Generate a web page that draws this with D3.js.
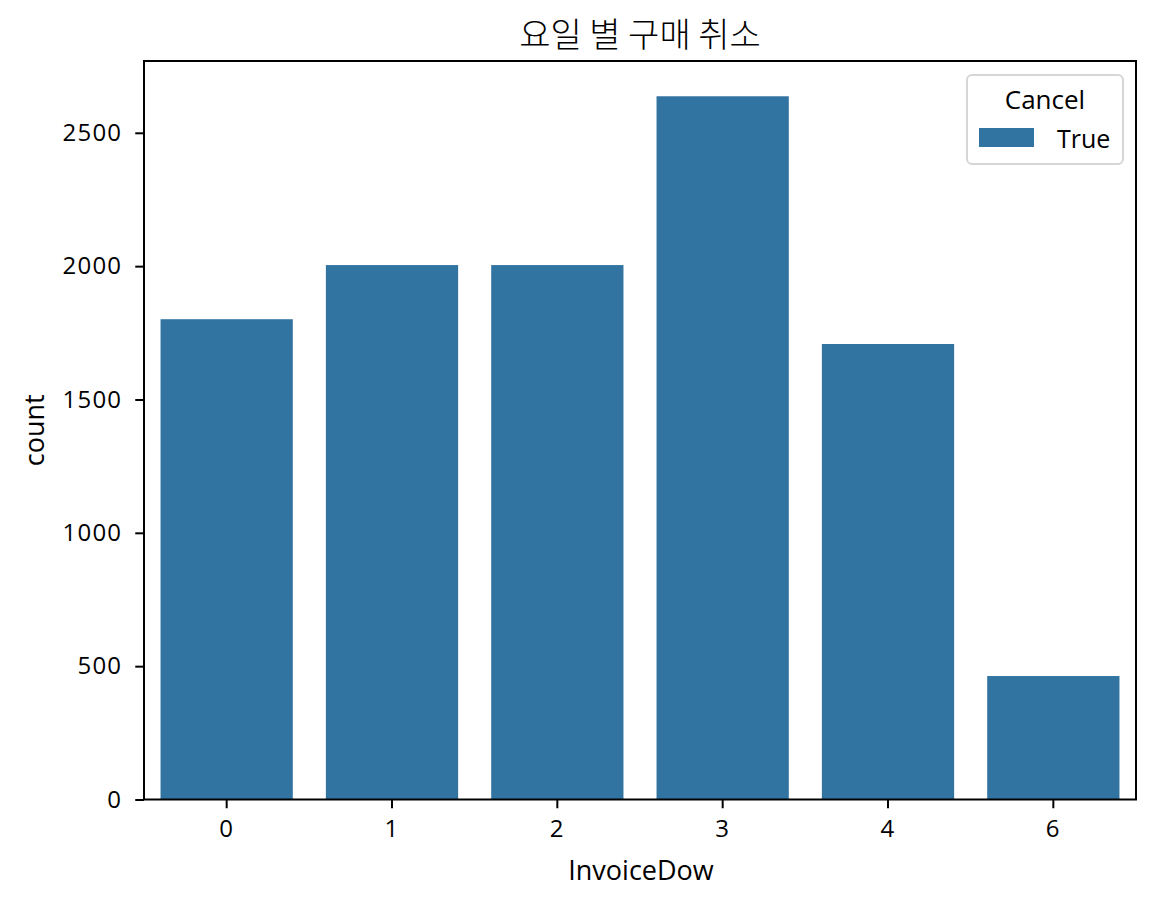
<!DOCTYPE html>
<html><head><meta charset="utf-8">
<script src="https://cdn.jsdelivr.net/npm/d3@7"></script>
<style>body{margin:0;background:#fff}svg{display:block}</style>
</head><body><svg id="c" width="1156" height="903"></svg>
<script>
const categories = ["0","1","2","3","4","6"];
const counts = [1801, 2004, 2004, 2637, 1708, 463];
const yTicks = [0, 500, 1000, 1500, 2000, 2500];
const legendTitle = "Cancel";
const legendLabels = ["True"];
const title = "요일 별 구매 취소";
const xLabel = "InvoiceDow";
const yLabel = "count";

const svg = d3.select("#c");
const m = {l:144, r:1136, t:61, b:799.5};
const font = "'Open Sans','Noto Sans',sans-serif";
const color = "#3274a1";

const x = d3.scaleBand().domain(categories).range([m.l, m.r]).paddingInner(0.2).paddingOuter(0.1);
const y = d3.scaleLinear().domain([0, 2500]).range([m.b, 132.8]);
const yMax = y.invert(m.t);
y.domain([0, yMax]).range([m.b, m.t]);

svg.append("g").selectAll("rect").data(counts).join("rect")
  .attr("x", (d,i)=>x(categories[i])).attr("width", x.bandwidth())
  .attr("y", d=>y(d)).attr("height", d=>m.b - y(d)).attr("fill", color);

const xa = svg.append("g").attr("transform", `translate(0,${m.b})`)
  .call(d3.axisBottom(x).tickSize(8.75).tickPadding(12));
const ya = svg.append("g").attr("transform", `translate(${m.l},0)`)
  .call(d3.axisLeft(y).tickValues(yTicks).tickFormat(d3.format("d")).tickSize(8.75).tickPadding(13));
[xa, ya].forEach(a=>{
  a.select(".domain").remove();
  a.selectAll("line").attr("stroke","#000").attr("stroke-width",2);
  a.selectAll("text").attr("font-family", font).attr("font-size", 24).attr("fill","#000")
    .attr("letter-spacing", "1.2px");
});

svg.append("rect").attr("x", m.l).attr("y", m.t).attr("width", m.r-m.l).attr("height", m.b-m.t)
  .attr("fill","none").attr("stroke","#000").attr("stroke-width",2);

svg.append("text").attr("x", (m.l+m.r)/2).attr("y", 47).attr("text-anchor","middle")
  .attr("font-family","'Noto Sans CJK KR',sans-serif").attr("font-weight", 300).attr("font-size", 34).text(title);
svg.append("text").attr("x", 641).attr("y", 880).attr("text-anchor","middle")
  .attr("font-family", font).attr("font-size", 27).text(xLabel);
svg.append("text").attr("transform", `translate(44,${(m.t+m.b)/2}) rotate(-90)`).attr("text-anchor","middle")
  .attr("font-family", font).attr("font-size", 27).text(yLabel);

const lg = svg.append("g");
lg.append("rect").attr("x", 967).attr("y", 75).attr("width", 156).attr("height", 89).attr("rx", 5)
  .attr("fill","#fff").attr("fill-opacity",0.8).attr("stroke","#d6d6d6").attr("stroke-width",2);
lg.append("text").attr("x", 1045).attr("y", 109).attr("text-anchor","middle")
  .attr("font-family", font).attr("font-size", 26).text(legendTitle);
legendLabels.forEach((l,i)=>{
  lg.append("rect").attr("x", 979).attr("y", 128 + i*30).attr("width", 55).attr("height", 19).attr("fill", color);
  lg.append("text").attr("x", 1057).attr("y", 148 + i*30).attr("font-family", font).attr("font-size", 25).text(l);
});
</script></body></html>
